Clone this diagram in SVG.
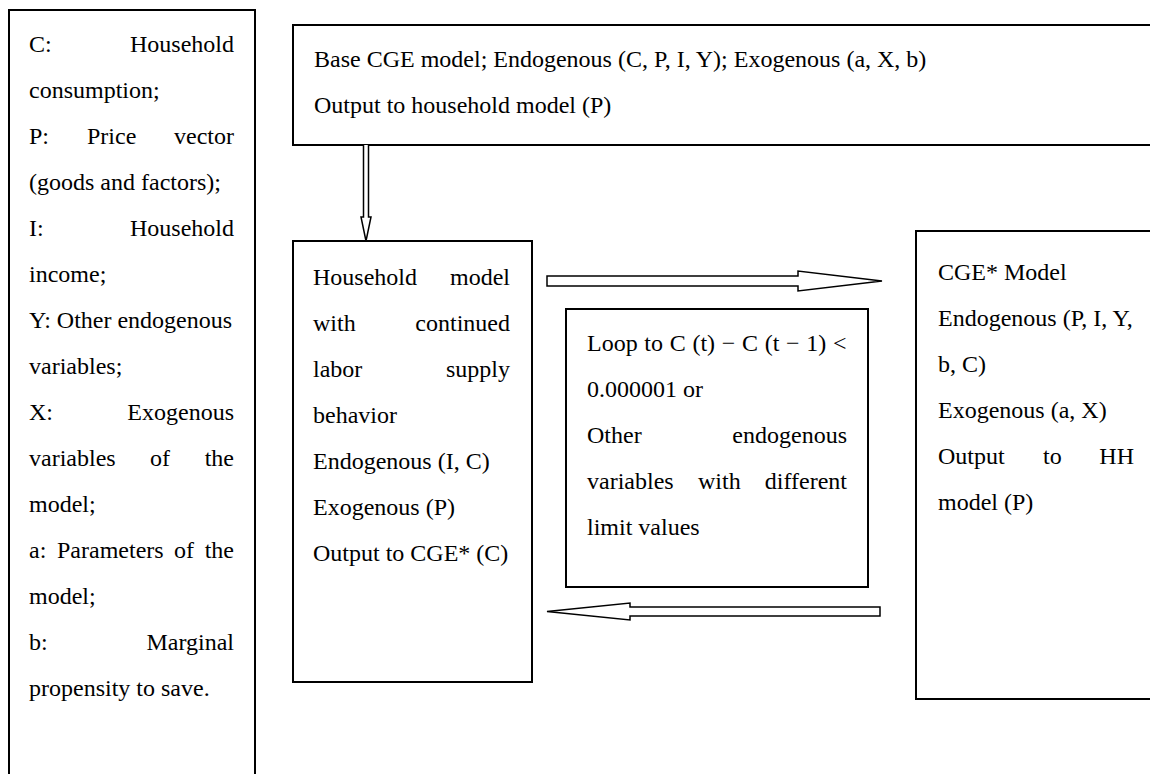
<svg xmlns="http://www.w3.org/2000/svg" width="1150" height="774" viewBox="0 0 1150 774">
<style>
.box{fill:#fff;stroke:#000;stroke-width:2}
.arr{fill:#fff;stroke:#000;stroke-width:1.5;stroke-linejoin:miter}
text{font-family:"Liberation Serif","Times New Roman",serif;font-size:24px;fill:#000}
.r{text-anchor:end}
</style>
<rect width="1150" height="774" fill="#fff"/>
<g id="legend">
<rect class="box" x="9" y="10" width="246" height="790"/>
<text x="29" y="52">C:</text><text class="r" x="234" y="52">Household</text>
<text x="29" y="98">consumption;</text>
<text x="29" y="144">P:</text><text x="87" y="144">Price</text><text class="r" x="234" y="144">vector</text>
<text x="29" y="190">(goods and factors);</text>
<text x="29" y="236">I:</text><text class="r" x="234" y="236">Household</text>
<text x="29" y="282">income;</text>
<text x="29" y="328">Y: Other endogenous</text>
<text x="29" y="374">variables;</text>
<text x="29" y="420">X:</text><text class="r" x="234" y="420">Exogenous</text>
<text x="29" y="466">variables</text><text x="150" y="466">of</text><text class="r" x="234" y="466">the</text>
<text x="29" y="512">model;</text>
<text x="29" y="558">a:</text><text x="57" y="558">Parameters</text><text x="174" y="558">of</text><text class="r" x="234" y="558">the</text>
<text x="29" y="604">model;</text>
<text x="29" y="650">b:</text><text class="r" x="234" y="650">Marginal</text>
<text x="29" y="696">propensity to save.</text>
</g>
<g id="base-cge">
<rect class="box" x="293" y="25" width="880" height="120"/>
<text x="314" y="67">Base CGE model; Endogenous (C, P, I, Y); Exogenous (a, X, b)</text>
<text x="314" y="113">Output to household model (P)</text>
</g>
<g id="household">
<rect class="box" x="293" y="241" width="239" height="441"/>
<text x="313" y="285">Household</text><text class="r" x="510" y="285">model</text>
<text x="313" y="331">with</text><text class="r" x="510" y="331">continued</text>
<text x="313" y="377">labor</text><text class="r" x="510" y="377">supply</text>
<text x="313" y="423">behavior</text>
<text x="313" y="469">Endogenous (I, C)</text>
<text x="313" y="515">Exogenous (P)</text>
<text x="313" y="561">Output to CGE* (C)</text>
</g>
<g id="loop">
<rect class="box" x="566" y="309" width="302" height="278"/>
<text x="587" y="351" word-spacing="0.7">Loop to C (t) − C (t − 1) &lt;</text>
<text x="587" y="397">0.000001 or</text>
<text x="587" y="443">Other</text><text class="r" x="847" y="443">endogenous</text>
<text x="587" y="489">variables</text><text x="698" y="489">with</text><text class="r" x="847" y="489">different</text>
<text x="587" y="535">limit values</text>
</g>
<g id="cge-star">
<rect class="box" x="916" y="231" width="260" height="468"/>
<text x="938" y="280">CGE* Model</text>
<text x="938" y="326">Endogenous (P, I, Y,</text>
<text x="938" y="372">b, C)</text>
<text x="938" y="418">Exogenous (a, X)</text>
<text x="938" y="464">Output</text><text x="1043" y="464">to</text><text class="r" x="1134" y="464">HH</text>
<text x="938" y="510">model (P)</text>
</g>
<g id="connectors">
<path class="arr" d="M363.5,145 L363.5,217 L361,217 L366,241 L371,217 L368.5,217 L368.5,145"/>
<path class="arr" d="M547,276 L798,276 L798,271 L882,281 L798,291 L798,286 L547,286 Z"/>
<path class="arr" d="M880,607 L630,607 L630,603 L547,611.5 L630,620 L630,616 L880,616 Z"/>
</g>
</svg>
